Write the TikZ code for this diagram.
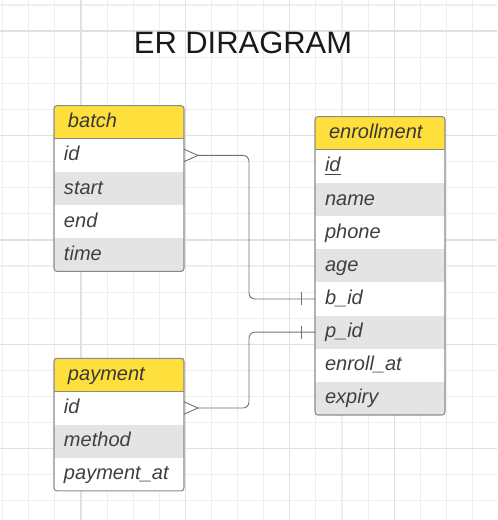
\documentclass[tikz,border=0pt]{standalone}
\usepackage{fontspec}
\setmainfont{Liberation Sans}
\usetikzlibrary{positioning,calc}
\definecolor{er_yellow}{HTML}{FFDF3C}
\definecolor{er_gray}{HTML}{E4E4E4}
\definecolor{er_border}{HTML}{8A8A8A}
\definecolor{er_text}{HTML}{404040}
\definecolor{er_link}{HTML}{707070}
\definecolor{grid_minor}{HTML}{EEEEEE}
\definecolor{grid_major}{HTML}{E0E0E0}
\tikzset{
  tbl_cell/.style = {align=left, inner ysep=0pt, outer sep=0pt, minimum height=0.663cm,
    text height=0.31cm, text depth=0.09cm, text=er_text,
    font=\fontsize{11.4}{13}\selectfont\itshape},
  tbl_h/.style = {tbl_cell, fill=er_yellow, inner xsep=0.28cm, text width=2.04cm, text=black!78},
  tbl_w/.style = {tbl_cell, fill=white, inner xsep=0.2cm, text width=2.2cm},
  tbl_g/.style = {tbl_w, fill=er_gray},
  tbl_line/.style = {draw=er_border, line width=0.6pt, rounded corners=0.06cm},
  er_rel/.style = {draw=er_link, line width=0.5pt},
}

\begin{document}
\begin{tikzpicture}[x=0.02cm, y=-0.02cm]
  \useasboundingbox (0,0) rectangle (497,520);
  \foreach \k in {0,...,19} {
    \draw[grid_minor, line width=0.6pt] (2.7+26.1*\k,0) -- (2.7+26.1*\k,520);
    \draw[grid_minor, line width=0.6pt] (0,5+26.1*\k) -- (497,5+26.1*\k);
  }
  \foreach \k in {3,7,11,15,19}
    \draw[grid_major, line width=0.7pt] (2.7+26.1*\k,0) -- (2.7+26.1*\k,520);
  \foreach \k in {1,5,9,13,17}
    \draw[grid_major, line width=0.7pt] (0,5+26.1*\k) -- (497,5+26.1*\k);

  \node (title) [anchor=base, text=black!90, font=\fontsize{17.6}{20}\selectfont] at (243,53.3) {ER DIRAGRAM};

  \node [tbl_h, anchor=north west] (batch_h) at (54,105.7) {batch};
  \node [tbl_w, below=0pt of batch_h] (batch_id) {id};
  \node [tbl_g, below=0pt of batch_id] (batch_start) {start};
  \node [tbl_w, below=0pt of batch_start] (batch_end) {end};
  \node [tbl_g, below=0pt of batch_end] (batch_time) {time};
  \draw [tbl_line] (batch_h.north west) rectangle (batch_time.south east);
  \draw [tbl_line] (batch_h.south west) -- (batch_h.south east);

  \node [tbl_h, anchor=north west] (pay_h) at (54,358.3) {payment};
  \node [tbl_w, below=0pt of pay_h] (pay_id) {id};
  \node [tbl_g, below=0pt of pay_id] (pay_method) {method};
  \node [tbl_w, below=0pt of pay_method] (pay_at) {payment\_at};
  \draw [tbl_line] (pay_h.north west) rectangle (pay_at.south east);
  \draw [tbl_line] (pay_h.south west) -- (pay_h.south east);

  \node [tbl_h, anchor=north west] (enr_h) at (315,116.7) {enrollment};
  \node [tbl_w, below=0pt of enr_h] (enr_id) {\underline{id}};
  \node [tbl_g, below=0pt of enr_id] (enr_name) {name};
  \node [tbl_w, below=0pt of enr_name] (enr_phone) {phone};
  \node [tbl_g, below=0pt of enr_phone] (enr_age) {age};
  \node [tbl_w, below=0pt of enr_age] (enr_bid) {b\_id};
  \node [tbl_g, below=0pt of enr_bid] (enr_pid) {p\_id};
  \node [tbl_w, below=0pt of enr_pid] (enr_at) {enroll\_at};
  \node [tbl_g, below=0pt of enr_at] (enr_expiry) {expiry};
  \draw [tbl_line] (enr_h.north west) rectangle (enr_expiry.south east);
  \draw [tbl_line] (enr_h.south west) -- (enr_h.south east);

  \coordinate (batch_foot) at ($(batch_id.east)+(14,0)$);
  \coordinate (batch_bend) at ($(batch_id.east)+(65,0)$);
  \draw [er_rel] ($(batch_id.east)+(0,-6.2)$) -- (batch_foot) -- ($(batch_id.east)+(0,6.2)$);
  \draw [er_rel, rounded corners=0.12cm] (batch_foot) -- (batch_bend) |- (enr_bid.west);
  \draw [er_rel] ($(enr_bid.west)+(-13.3,-6.5)$) -- ++(0,13);

  \coordinate (pay_foot) at ($(pay_id.east)+(14,0)$);
  \coordinate (pay_bend) at ($(pay_id.east)+(65,0)$);
  \draw [er_rel] ($(pay_id.east)+(0,-6.2)$) -- (pay_foot) -- ($(pay_id.east)+(0,6.2)$);
  \draw [er_rel, rounded corners=0.12cm] (pay_foot) -- (pay_bend) |- (enr_pid.west);
  \draw [er_rel] ($(enr_pid.west)+(-13.3,-6.5)$) -- ++(0,13);
\end{tikzpicture}
\end{document}
